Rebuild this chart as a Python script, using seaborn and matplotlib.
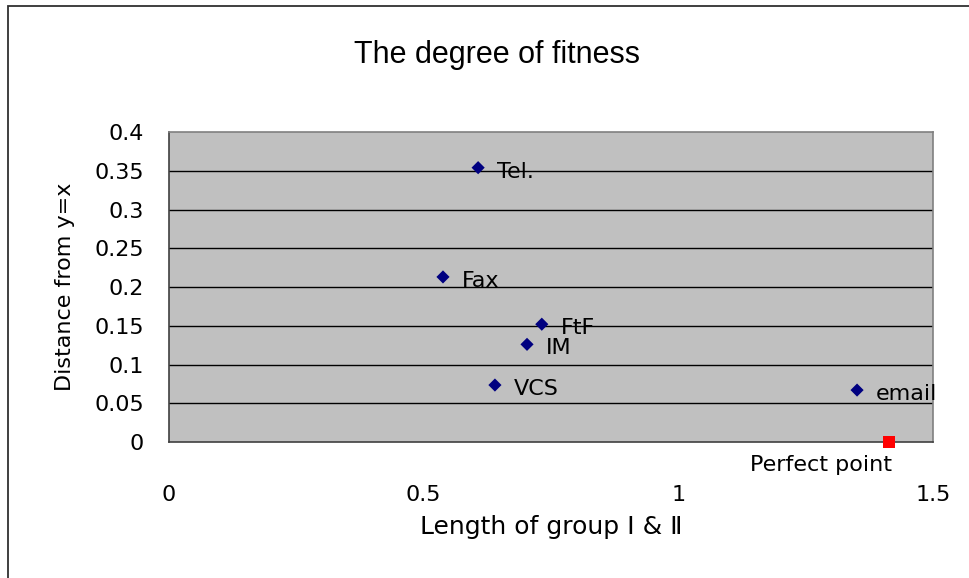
import matplotlib
matplotlib.use("Agg")
import matplotlib.pyplot as plt
import seaborn as sns
import pandas as pd
from matplotlib.patches import Rectangle

# 数据
media = ["Tel.", "Fax", "FtF", "IM", "VCS", "email"]
length_x = [0.607, 0.538, 0.732, 0.703, 0.640, 1.351]
distance_y = [0.354, 0.213, 0.152, 0.126, 0.0735, 0.067]
perfect_label = "Perfect point"
perfect_x = [1.414]
perfect_y = [0.0]

x_ticks = [0, 0.5, 1, 1.5]
x_tick_labels = ["0", "0.5", "1", "1.5"]
y_ticks = [0, 0.05, 0.1, 0.15, 0.2, 0.25, 0.3, 0.35, 0.4]
y_tick_labels = ["0", "0.05", "0.1", "0.15", "0.2", "0.25", "0.3", "0.35", "0.4"]

sns.set_style("white")
plt.rcParams["font.family"] = ["DejaVu Sans", "Noto Sans CJK JP"]
plt.rcParams["text.color"] = "black"
plt.rcParams["axes.labelcolor"] = "black"
plt.rcParams["xtick.color"] = "black"
plt.rcParams["ytick.color"] = "black"

df = pd.DataFrame({"x": length_x, "y": distance_y, "name": media})
df_perfect = pd.DataFrame({"x": perfect_x, "y": perfect_y})

fig = plt.figure(figsize=(9.7, 5.78), dpi=100)
ax = fig.add_axes([0.1742, 0.2353, 0.7876, 0.5363])
ax.set_facecolor("#C0C0C0")

# 水平网格线
for yv in y_ticks[1:-1]:
    ax.axhline(yv, color="black", linewidth=1.0, zorder=1)

sns.scatterplot(data=df, x="x", y="y", marker="D", color="#000080",
                s=45, edgecolor="none", ax=ax, zorder=3)
sns.scatterplot(data=df_perfect, x="x", y="y", marker="s", color="#FF0000",
                s=70, edgecolor="none", ax=ax, zorder=3, clip_on=False)

for _, row in df.iterrows():
    ax.annotate(row["name"], (row["x"], row["y"]), xytext=(19, -4),
                textcoords="offset pixels", ha="left", va="center",
                fontsize=16, color="black")
ax.annotate(perfect_label, (perfect_x[0], perfect_y[0]), xytext=(-68, -23),
            textcoords="offset pixels", ha="center", va="center", fontsize=16,
            color="black", annotation_clip=False)

ax.set_xlim(0, 1.5)
ax.set_ylim(0, 0.4)
ax.set_xticks(x_ticks)
ax.set_xticklabels(x_tick_labels, fontsize=16)
ax.set_yticks(y_ticks)
ax.set_yticklabels(y_tick_labels, fontsize=16)
ax.tick_params(axis="x", direction="in", length=7, pad=31, color="black")
ax.tick_params(axis="y", direction="in", length=7, pad=18, color="black")

for side, sp in ax.spines.items():
    sp.set_color("#808080")
    sp.set_linewidth(1.2)
ax.spines["left"].set_color("#404040")
ax.spines["bottom"].set_color("#404040")

ax.set_xlabel("Length of group Ⅰ & Ⅱ", fontsize=18, labelpad=7)
ax.set_ylabel("Distance from y=x", fontsize=16, labelpad=14)

fig.text(0.512, 0.905, "The degree of fitness", ha="center", va="center",
         fontsize=22, color="black", family=["Liberation Sans", "DejaVu Sans"])

# 外框
fig.patches.append(Rectangle((8 / 970, -0.1), 1.2, (572 / 578) + 0.1,
                             transform=fig.transFigure, fill=False,
                             edgecolor="#303030", linewidth=1.3))

fig.savefig("out.png", dpi=100)
